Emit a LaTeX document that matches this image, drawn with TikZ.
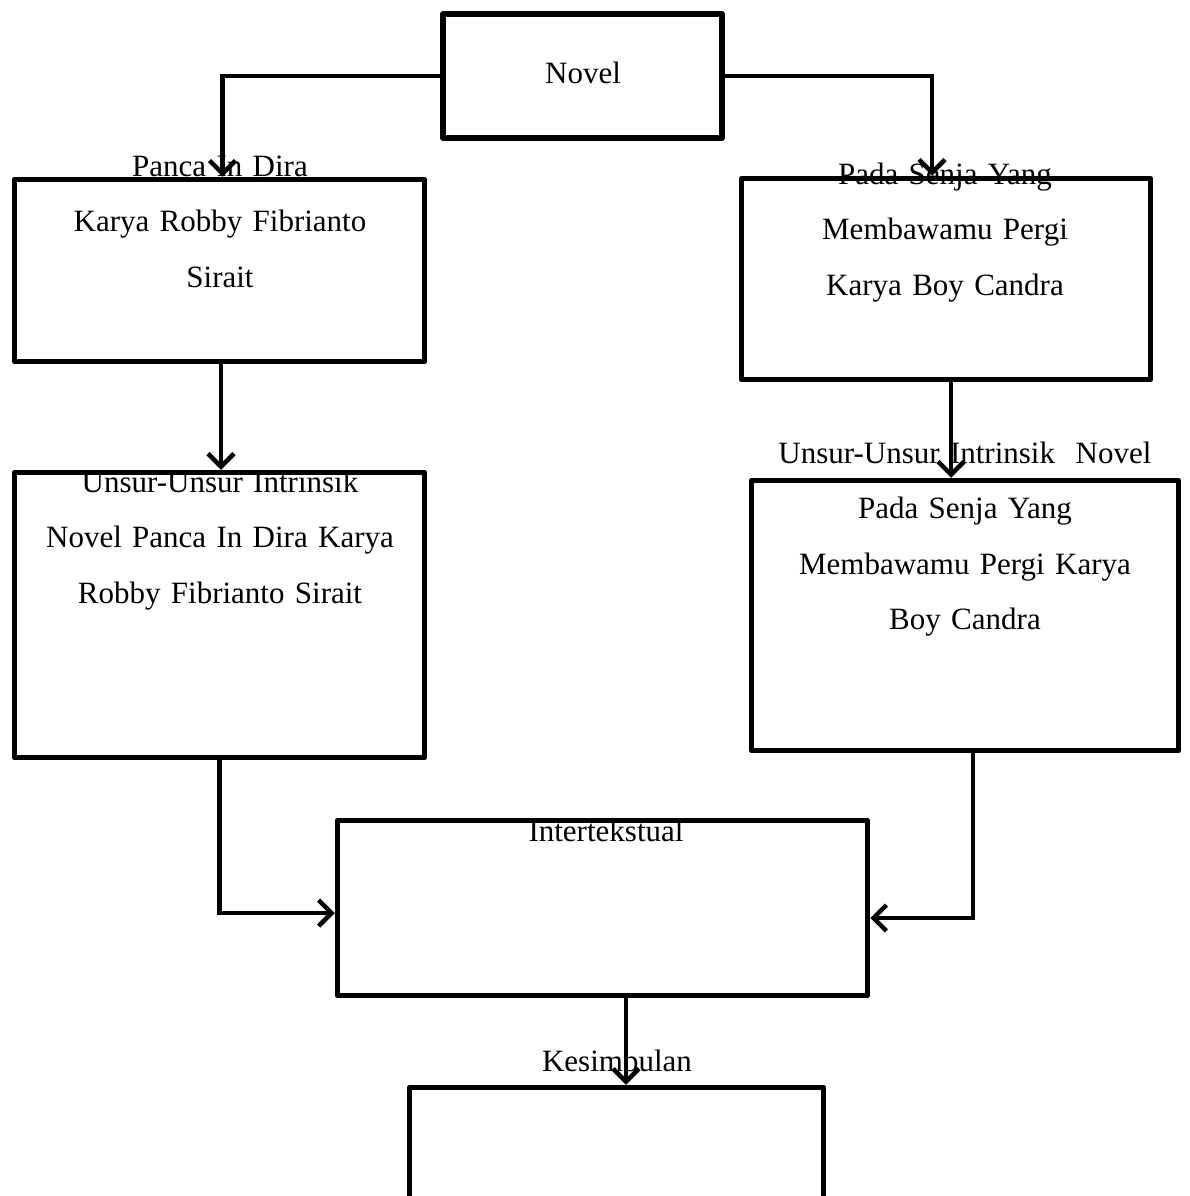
\documentclass[tikz,border=0pt]{standalone}
\usepackage{fontspec}
\setmainfont{Liberation Serif}
\usetikzlibrary{arrows.meta}
\begin{document}
\begin{tikzpicture}[x=1pt,y=-1pt,
  box/.style={draw, line width=5.5pt, inner sep=0pt, line join=round},
  lbl/.style={inner sep=0pt, anchor=base, text width=460pt, align=center,
    font=\fontsize{31}{55.5}\selectfont},
  conn/.style={line width=4.5pt, -{Straight Barb[length=13pt,width=26pt,line width=4.5pt]}}]
\useasboundingbox (0,0) rectangle (1189,1196);
\clip (0,0) rectangle (1189,1196);
\fill[white] (0,0) rectangle (1189,1196);
% boxes
\node[box, minimum width=279pt, minimum height=124pt] (N) at (582.5,76) {};
\node[box, minimum width=410pt, minimum height=182pt] (L1) at (219.5,270.5) {};
\node[box, minimum width=409pt, minimum height=201pt] (R1) at (946,279) {};
\node[box, minimum width=410pt, minimum height=285pt] (L2) at (219.5,615) {};
\node[box, minimum width=427pt, minimum height=270pt] (R2) at (965,615.5) {};
\node[box, minimum width=530pt, minimum height=175pt] (M) at (602.5,908) {};
\node[box, minimum width=414pt, minimum height=220pt] (K) at (616.5,1197.5) {};
% connectors
\draw[conn] (N.west) -| ([xshift=3pt]L1.north);
\draw[conn] (N.east) -| ([xshift=-14pt]R1.north);
\draw[conn] ([xshift=1.5pt]L1.south) -- ([xshift=1.5pt]L1.south |- L2.north);
\draw[conn] ([xshift=5pt]R1.south) -- ([xshift=5pt]R1.south |- R2.north);
\draw[conn] (L2.south) |- ([yshift=-5pt]M.west);
\draw[conn] ([xshift=8pt]R2.south) |- ([yshift=-10pt]M.east);
\draw[conn] ([xshift=23.5pt]M.south) -- ([xshift=23.5pt]M.south |- K.north);
% labels
\node[lbl] (tN) at (583,84) {Novel};
\node[lbl] (tL1) at (220,176) {Panca In Dira\\Karya Robby Fibrianto\\Sirait};
\node[lbl] (tR1) at (945,184) {Pada Senja Yang\\Membawamu Pergi\\Karya Boy Candra};
\node[lbl] (tL2) at (220,492) {Unsur-Unsur Intrinsik\\Novel Panca In Dira Karya\\Robby Fibrianto Sirait};
\node[lbl] (tR2) at (965,463) {Unsur-Unsur Intrinsik\ \ Novel\\Pada Senja Yang\\Membawamu Pergi Karya\\Boy Candra};
\node[lbl] (tM) at (606,841) {Intertekstual};
\node[lbl] (tK) at (617,1071) {Kesimpulan};
\end{tikzpicture}
\end{document}
